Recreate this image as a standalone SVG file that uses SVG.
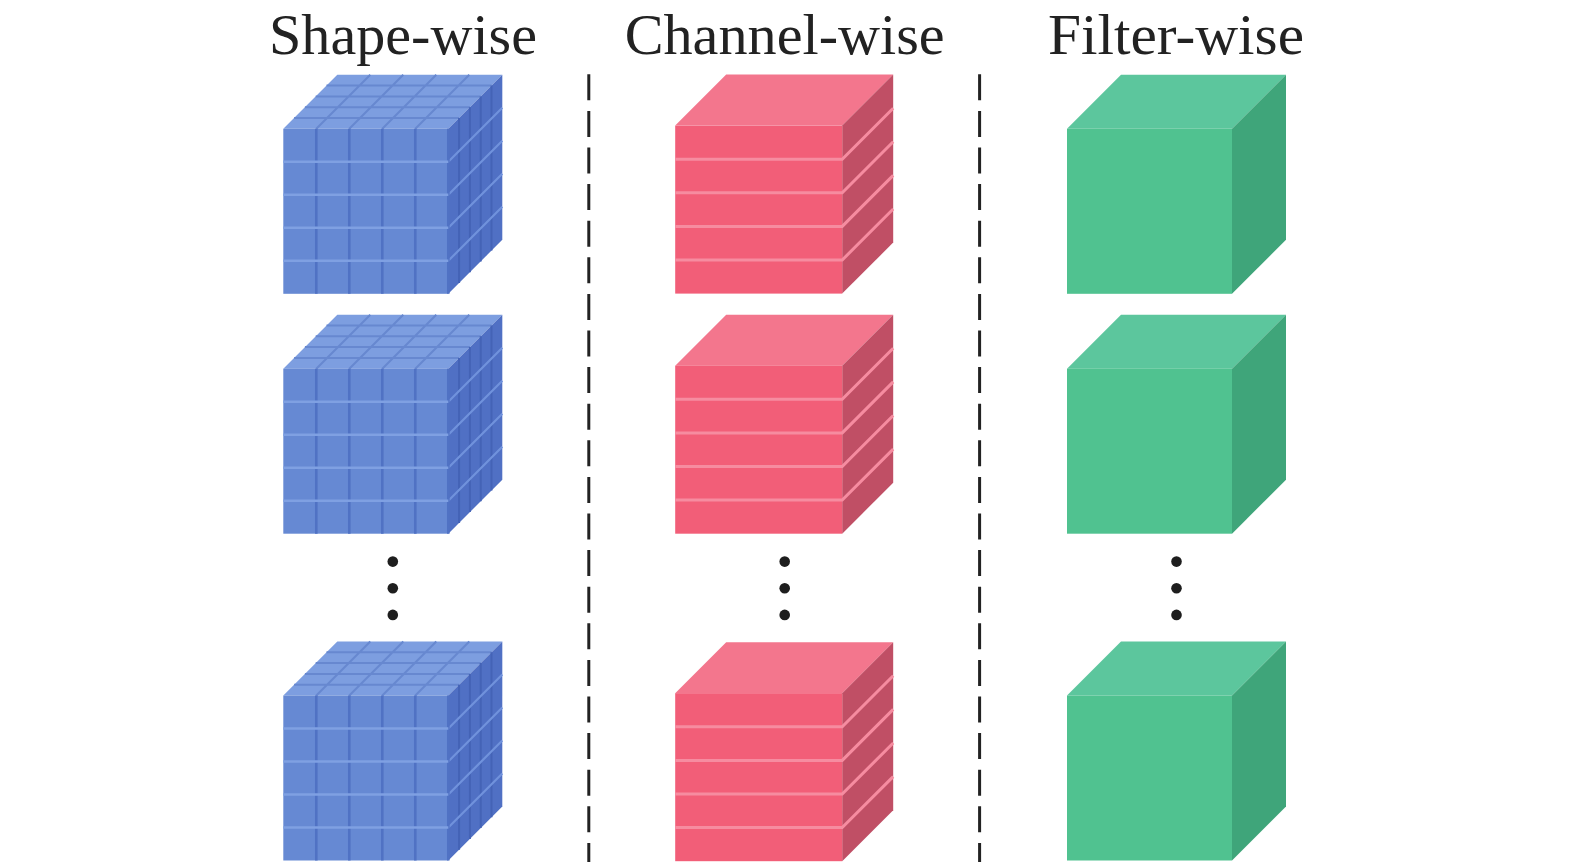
<svg xmlns="http://www.w3.org/2000/svg" xmlns:xlink="http://www.w3.org/1999/xlink" width="1575" height="866" viewBox="0 0 1575 866">
<style>
.title{font-family:"Liberation Serif","DejaVu Serif",serif;font-size:58px;fill:#222;text-anchor:middle}
.bf{fill:#6689d3}.bt{fill:#7d9ee0}.bs{fill:#5070c4}
.bfv{stroke:#5072c4;stroke-width:2.6;fill:none}
.bfh{stroke:#7fa0e2;stroke-width:2.4;fill:none}
.btl{stroke:#6788d0;stroke-width:2;fill:none}
.bsv{stroke:#4463b6;stroke-width:2;fill:none}
.bsd{stroke:#7092dc;stroke-width:2.2;fill:none}
.rf{fill:#f25e78}.rt{fill:#f3768d}.rs{fill:#c04f65}
.rl{stroke:#f68ca0;stroke-width:3;fill:none}
.gf{fill:#50c290}.gt{fill:#5cc69d}.gs{fill:#3fa57a}
.dash{stroke:#222;stroke-width:3;stroke-dasharray:26 10.6;fill:none}
.dot{fill:#1e1e1e}
</style>
<defs>
<g id="blueCube">
<polygon class="bt" points="0,0 54,-54 219,-54 165,0"/>
<polygon class="bs" points="165,0 219,-54 219,111 165,165"/>
<rect class="bf" x="0" y="0" width="165" height="165"/>
<path class="btl" d="M10.8,-10.8H175.8M21.6,-21.6H186.6M32.4,-32.4H197.4M43.2,-43.2H208.2M33,0L87,-54M66,0L120,-54M99,0L153,-54M132,0L186,-54"/>
<path class="bsv" d="M175.8,-10.8V154.2M186.6,-21.6V143.4M197.4,-32.4V132.6M208.2,-43.2V121.8"/>
<path class="bsd" d="M165,33L219,-21M165,66L219,12M165,99L219,45M165,132L219,78"/>
<path class="bfv" d="M33,0V165M66,0V165M99,0V165M132,0V165M165,0V165"/>
<path class="bfh" d="M0,33H165M0,66H165M0,99H165M0,132H165"/>
</g>
<g id="redCube">
<polygon class="rt" points="0,0 51,-51 218,-51 167,0"/>
<polygon class="rs" points="167,0 218,-51 218,117 167,168"/>
<rect class="rf" x="0" y="0" width="167" height="168"/>
<path class="rl" d="M0,33.6H167L218,-17.4M0,67.2H167L218,16.2M0,100.8H167L218,49.8M0,134.4H167L218,83.4"/>
</g>
<g id="greenCube">
<polygon class="gt" points="0,0 54,-54 219,-54 165,0"/>
<polygon class="gs" points="165,0 219,-54 219,111 165,165"/>
<rect class="gf" x="0" y="0" width="165" height="165"/>
</g>
</defs>
<g id="titles">
<text class="title" x="403" y="53.5" textLength="268" lengthAdjust="spacingAndGlyphs">Shape-wise</text>
<text class="title" x="784.7" y="53.5" textLength="320" lengthAdjust="spacingAndGlyphs">Channel-wise</text>
<text class="title" x="1176" y="53.5" textLength="256" lengthAdjust="spacingAndGlyphs">Filter-wise</text>
</g>
<g id="connectors">
<line class="dash" x1="588.8" y1="74.3" x2="588.8" y2="862"/>
<line class="dash" x1="979.6" y1="74.3" x2="979.6" y2="862"/>
</g>
<g id="shape-1"><use xlink:href="#blueCube" transform="translate(283.3,128.8)"/></g>
<g id="shape-2"><use xlink:href="#blueCube" transform="translate(283.3,368.7)"/></g>
<g id="shape-n"><use xlink:href="#blueCube" transform="translate(283.3,695.5)"/></g>
<g id="channel-1"><use xlink:href="#redCube" transform="translate(675.2,125.6)"/></g>
<g id="channel-2"><use xlink:href="#redCube" transform="translate(675.2,365.7)"/></g>
<g id="channel-n"><use xlink:href="#redCube" transform="translate(675.2,693.2)"/></g>
<g id="filter-1"><use xlink:href="#greenCube" transform="translate(1067,128.8)"/></g>
<g id="filter-2"><use xlink:href="#greenCube" transform="translate(1067,368.7)"/></g>
<g id="filter-n"><use xlink:href="#greenCube" transform="translate(1067,695.5)"/></g>
<g id="ellipses">
<circle class="dot" cx="392.8" cy="561.6" r="5.3"/><circle class="dot" cx="392.8" cy="588.3" r="5.3"/><circle class="dot" cx="392.8" cy="614.9" r="5.3"/>
<circle class="dot" cx="784.7" cy="561.6" r="5.3"/><circle class="dot" cx="784.7" cy="588.3" r="5.3"/><circle class="dot" cx="784.7" cy="614.9" r="5.3"/>
<circle class="dot" cx="1176.5" cy="561.6" r="5.3"/><circle class="dot" cx="1176.5" cy="588.3" r="5.3"/><circle class="dot" cx="1176.5" cy="614.9" r="5.3"/>
</g>
</svg>
